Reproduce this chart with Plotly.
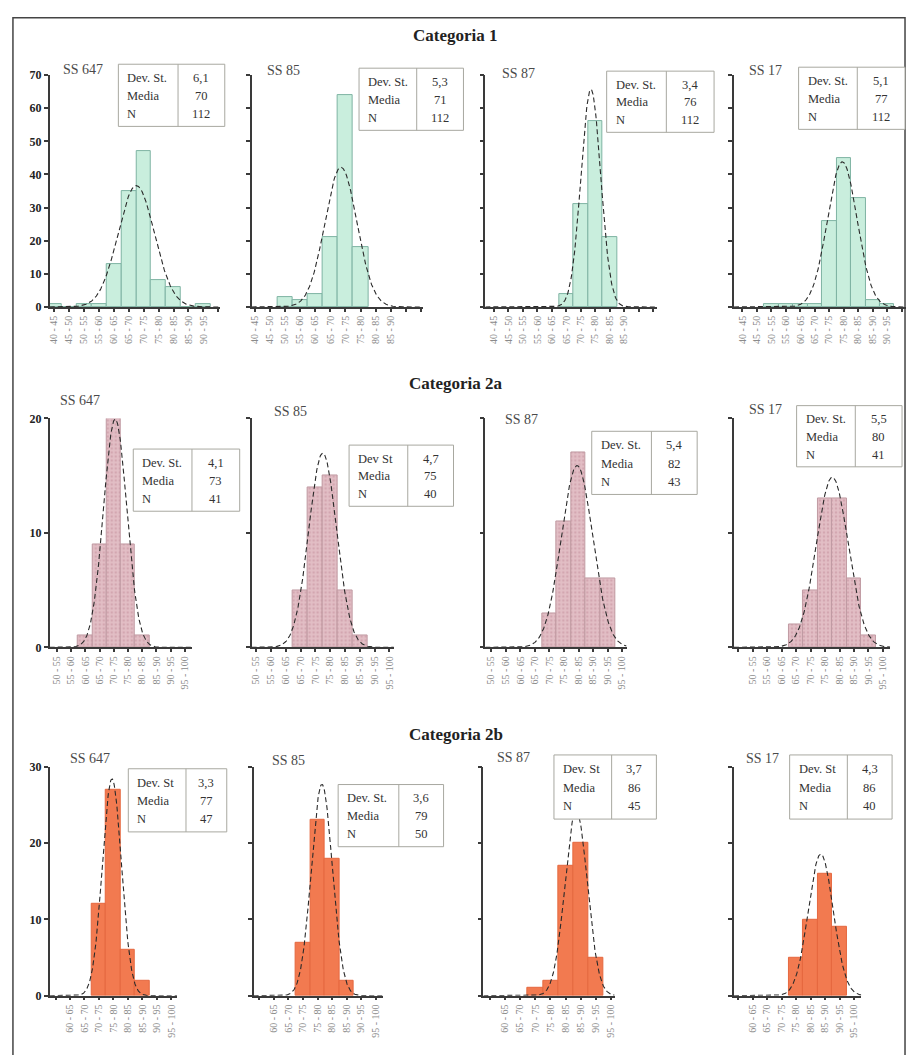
import numpy as np
import plotly.graph_objects as go

W, H = 910, 1055

def px(x):
    return x / W

def py(y):
    return 1 - y / H

# ---------------- DATA ----------------
categories = ["Categoria 1", "Categoria 2a", "Categoria 2b"]
roads = ["SS 647", "SS 85", "SS 87", "SS 17"]

# bin lower edges (width 5) and counts, per category / road
bins_c1_647 = [40, 45, 50, 55, 60, 65, 70, 75, 80, 85, 90]
counts_c1_647 = [1, 0, 1, 1, 13, 35, 47, 8, 6, 0, 1]
bins_c1_85 = [50, 55, 60, 65, 70, 75]
counts_c1_85 = [3, 2, 4, 21, 64, 18]
bins_c1_87 = [65, 70, 75, 80]
counts_c1_87 = [4, 31, 56, 21]
bins_c1_17 = [50, 55, 60, 65, 70, 75, 80, 85, 90]
counts_c1_17 = [1, 1, 1, 1, 26, 45, 33, 2, 1]

bins_c2a_647 = [60, 65, 70, 75, 80]
counts_c2a_647 = [1, 9, 20, 9, 1]
bins_c2a_85 = [65, 70, 75, 80, 85]
counts_c2a_85 = [5, 14, 15, 5, 1]
bins_c2a_87 = [70, 75, 80, 85, 90]
counts_c2a_87 = [3, 11, 17, 6, 6]
bins_c2a_17 = [65, 70, 75, 80, 85, 90]
counts_c2a_17 = [2, 5, 13, 13, 6, 1]

bins_c2b_647 = [70, 75, 80, 85]
counts_c2b_647 = [12, 27, 6, 2]
bins_c2b_85 = [70, 75, 80, 85]
counts_c2b_85 = [7, 23, 18, 2]
bins_c2b_87 = [70, 75, 80, 85, 90]
counts_c2b_87 = [1, 2, 17, 20, 5]
bins_c2b_17 = [75, 80, 85, 90]
counts_c2b_17 = [5, 10, 16, 9]

# tick label lower edges (labels "a - b")
ticks_c1_647 = [40, 45, 50, 55, 60, 65, 70, 75, 80, 85, 90]
ticks_c1_85 = [40, 45, 50, 55, 60, 65, 70, 75, 80, 85]
ticks_c1_87 = [40, 45, 50, 55, 60, 65, 70, 75, 80, 85]
ticks_c1_17 = [40, 45, 50, 55, 60, 65, 70, 75, 80, 85, 90]
ticks_c2a = [50, 55, 60, 65, 70, 75, 80, 85, 90, 95]
ticks_c2b = [60, 65, 70, 75, 80, 85, 90, 95]

# statistics tables
dev_c1 = ["6,1", "5,3", "3,4", "5,1"]
media_c1 = ["70", "71", "76", "77"]
n_c1 = ["112", "112", "112", "112"]
dev_c2a = ["4,1", "4,7", "5,4", "5,5"]
media_c2a = ["73", "75", "82", "80"]
n_c2a = ["41", "40", "43", "41"]
dev_c2b = ["3,3", "3,6", "3,7", "4,3"]
media_c2b = ["77", "79", "86", "86"]
n_c2b = ["47", "50", "45", "40"]

y_max = [70, 20, 30]
y_step = [10, 10, 10]

# ---------------- GEOMETRY / STYLE ----------------
rows_data = [
    [(bins_c1_647, counts_c1_647, ticks_c1_647), (bins_c1_85, counts_c1_85, ticks_c1_85),
     (bins_c1_87, counts_c1_87, ticks_c1_87), (bins_c1_17, counts_c1_17, ticks_c1_17)],
    [(bins_c2a_647, counts_c2a_647, ticks_c2a), (bins_c2a_85, counts_c2a_85, ticks_c2a),
     (bins_c2a_87, counts_c2a_87, ticks_c2a), (bins_c2a_17, counts_c2a_17, ticks_c2a)],
    [(bins_c2b_647, counts_c2b_647, ticks_c2b), (bins_c2b_85, counts_c2b_85, ticks_c2b),
     (bins_c2b_87, counts_c2b_87, ticks_c2b), (bins_c2b_17, counts_c2b_17, ticks_c2b)],
]
rows_stats = [(dev_c1, media_c1, n_c1), (dev_c2a, media_c2a, n_c2a), (dev_c2b, media_c2b, n_c2b)]

row_y = [(304, 69), (649, 417), (1002, 770)]
title_y = [29, 382, 737]
panel_x = [
    [(47, 218), (250, 422), (485, 658), (735, 908)],
    [(47, 190), (250, 393), (485, 627), (735, 892)],
    [(47, 175), (252, 382), (483, 615), (735, 863)],
]
x_ranges = [
    [(41, 98), (41.5, 98), (39.5, 99), (39.6, 99)],
    [(50, 100), (51, 99), (50.5, 99), (46, 100)],
    [(55.5, 99.5), (55.5, 100), (55.3, 98.7), (56, 100)],
]
tables = [
    [(116, 58, 223, 121, 176), (358, 62, 463, 125, 416), (607, 65, 715, 127, 667), (800, 61, 907, 124, 859)],
    [(131, 448, 238, 511, 190), (348, 444, 453, 506, 407), (592, 430, 698, 494, 652), (798, 404, 904, 466, 857)],
    [(126, 772, 225, 836, 184), (337, 788, 443, 851, 398), (554, 758, 657, 823, 612), (791, 758, 894, 823, 849)],
]
label_pos = [
    [(58, 63), (263, 64), (500, 67), (748, 64)],
    [(55, 399), (270, 410), (503, 418), (748, 408)],
    [(65, 762), (268, 764), (495, 761), (745, 762)],
]
dev_labels = [
    ["Dev. St.", "Dev. St.", "Dev. St.", "Dev. St."],
    ["Dev. St.", "Dev St", "Dev. St.", "Dev. St."],
    ["Dev. St", "Dev. St.", "Dev. St", "Dev. St"],
]

bar_styles = [
    dict(color="#c9eedd", line=dict(color="#7fb3a3", width=1)),
    dict(color="#dcb4bc", line=dict(color="#c09aa2", width=1),
         pattern=dict(shape=".", fgcolor="#c38e99", bgcolor="#e2bec5", size=4, solidity=0.3)),
    dict(color="#f27a50", line=dict(color="#e5683f", width=1)),
]

SERIF = "Liberation Serif, Times New Roman, serif"
AX = "#3a3a3a"

fig = go.Figure()
layout = dict(
    width=W, height=H, margin=dict(l=0, r=0, t=0, b=0),
    paper_bgcolor="white", plot_bgcolor="white", showlegend=False,
    bargap=0, barmode="overlay",
)
shapes = []
annotations = []

k = 0
for r in range(3):
    dev_l, med_l, n_l = rows_stats[r]
    annotations.append(dict(x=px(455), y=py(title_y[r]), xref="paper", yref="paper",
                            text="<b>%s</b>" % categories[r], showarrow=False,
                            font=dict(family=SERIF, size=17, color="#222"),
                            xanchor="center", yanchor="middle"))
    for c in range(4):
        k += 1
        xa = "x" if k == 1 else "x%d" % k
        ya = "y" if k == 1 else "y%d" % k
        bins, counts, ticks = rows_data[r][c]
        centers = [b + 2.5 for b in bins]
        fig.add_trace(go.Bar(x=centers, y=counts, width=5, marker=bar_styles[r],
                             xaxis=xa, yaxis=ya, hoverinfo="x+y"))
        # fitted normal curve from the table statistics (as in the original)
        sd = float(dev_l[c].replace(",", "."))
        mu = float(med_l[c])
        n = float(n_l[c])
        lo, hi = x_ranges[r][c]
        xs = np.linspace(lo, hi, 300)
        ys = n * 5 / (sd * np.sqrt(2 * np.pi)) * np.exp(-0.5 * ((xs - mu) / sd) ** 2)
        fig.add_trace(go.Scatter(x=xs, y=ys, mode="lines",
                                 line=dict(color="#2a2a2a", width=1.1, dash="5px,3px"),
                                 xaxis=xa, yaxis=ya, hoverinfo="skip"))

        # axes
        tv, tt = [], []
        start = 5 * np.floor(lo / 5)
        e = start
        while e + 2.5 <= hi:
            if e + 2.5 >= lo:
                tv.append(e + 2.5)
                tt.append("%d - %d" % (e, e + 5) if int(e) in ticks else "")
            e += 5
        x0p, x1p = panel_x[r][c]
        yb, yt = row_y[r]
        sfx = "" if k == 1 else str(k)
        layout["xaxis" + sfx] = dict(
            domain=[px(x0p), px(x1p)], range=[lo, hi], anchor=ya,
            showgrid=False, zeroline=False, showline=True, linecolor=AX, linewidth=1.5,
            ticks="outside", ticklen=3, tickwidth=2, tickcolor=AX,
            tickvals=tv, ticktext=tt, tickangle=-90,
            tickfont=dict(family=SERIF, size=10, color="#8a8a8a"),
            fixedrange=True,
        )
        layout["yaxis" + sfx] = dict(
            domain=[py(yb), py(yt)], range=[0, y_max[r]], anchor=xa,
            showgrid=False, zeroline=False, showline=True, linecolor=AX, linewidth=1.5,
            ticks="outside", ticklen=4, tickwidth=2, tickcolor=AX,
            tickvals=list(range(0, y_max[r] + 1, y_step[r])),
            ticktext=["<b>%d</b>" % v for v in range(0, y_max[r] + 1, y_step[r])],
            showticklabels=(c == 0),
            tickfont=dict(family=SERIF, size=12, color="#222"),
            fixedrange=True,
        )

        # road label
        lx, ly = label_pos[r][c]
        annotations.append(dict(x=px(lx), y=py(ly), xref="paper", yref="paper",
                                text=roads[c], showarrow=False,
                                font=dict(family=SERIF, size=14, color="#4a4a4a"),
                                xanchor="left", yanchor="middle"))
        # stats table
        tx0, ty0, tx1, ty1, tdiv = tables[r][c]
        shapes.append(dict(type="rect", xref="paper", yref="paper",
                           x0=px(tx0), x1=px(tx1), y0=py(ty1), y1=py(ty0),
                           line=dict(color="#a8a8a0", width=1), fillcolor="white", layer="above"))
        shapes.append(dict(type="line", xref="paper", yref="paper",
                           x0=px(tdiv), x1=px(tdiv), y0=py(ty1), y1=py(ty0),
                           line=dict(color="#a8a8a0", width=1), layer="above"))
        hgt = ty1 - ty0
        rows_txt = [(dev_labels[r][c], dev_l[c]), ("Media", med_l[c]), ("N", n_l[c])]
        for i, (lab, val) in enumerate(rows_txt):
            yy = ty0 + hgt * (0.22 + 0.29 * i)
            annotations.append(dict(x=px(tx0 + 7), y=py(yy), xref="paper", yref="paper",
                                    text=lab, showarrow=False,
                                    font=dict(family=SERIF, size=12.5, color="#333"),
                                    xanchor="left", yanchor="middle"))
            annotations.append(dict(x=px((tdiv + tx1) / 2), y=py(yy), xref="paper", yref="paper",
                                    text=val, showarrow=False,
                                    font=dict(family=SERIF, size=12.5, color="#333"),
                                    xanchor="center", yanchor="middle"))

# outer frame
shapes.append(dict(type="rect", xref="paper", yref="paper",
                   x0=px(10), x1=px(907), y0=py(1070), y1=py(11),
                   line=dict(color="#444", width=1.5), fillcolor="rgba(0,0,0,0)", layer="below"))

layout["shapes"] = shapes
layout["annotations"] = annotations
fig.update_layout(**layout)
fig.write_html("out.html")
